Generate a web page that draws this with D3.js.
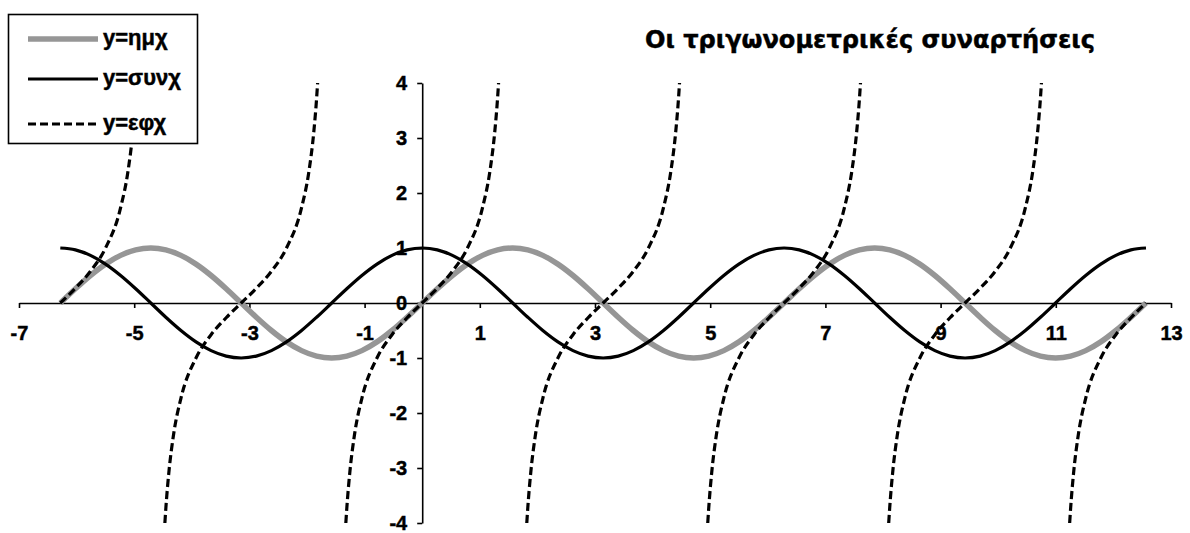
<!DOCTYPE html>
<html>
<head>
<meta charset="utf-8">
<script src="https://cdn.jsdelivr.net/npm/d3@7"></script>
<style>
  body { margin: 0; background: #fff; }
  text { font-family: "Liberation Sans", Arial, sans-serif; font-weight: bold; stroke: #000; stroke-width: 0.45px; }
</style>
</head>
<body>
<svg id="chart" width="1190" height="533"></svg>
<script>
var titleText = "Οι τριγωνομετρικές συναρτήσεις";
var seriesNames = ["y=ημχ", "y=συνχ", "y=εφχ"];
var xTicks = [-7, -5, -3, -1, 1, 3, 5, 7, 9, 11, 13];
var yTicks = [-4, -3, -2, -1, 0, 1, 2, 3, 4];

// x in radians, step of 15 degrees from -2pi to 4pi
var xValues = [
  -6.283, -6.021, -5.760, -5.498, -5.236, -4.974, -4.712, -4.451, -4.189, -3.927, -3.665, -3.403,
  -3.142, -2.880, -2.618, -2.356, -2.094, -1.833, -1.571, -1.309, -1.047, -0.785, -0.524, -0.262,
  0, 0.262, 0.524, 0.785, 1.047, 1.309, 1.571, 1.833, 2.094, 2.356, 2.618, 2.880,
  3.142, 3.403, 3.665, 3.927, 4.189, 4.451, 4.712, 4.974, 5.236, 5.498, 5.760, 6.021,
  6.283, 6.545, 6.807, 7.069, 7.330, 7.592, 7.854, 8.116, 8.378, 8.639, 8.901, 9.163,
  9.425, 9.687, 9.948, 10.210, 10.472, 10.734, 10.996, 11.257, 11.519, 11.781, 12.043, 12.305,
  12.566
];
var sinValues = [
  0, 0.259, 0.5, 0.707, 0.866, 0.966, 1, 0.966, 0.866, 0.707, 0.5, 0.259,
  0, -0.259, -0.5, -0.707, -0.866, -0.966, -1, -0.966, -0.866, -0.707, -0.5, -0.259,
  0, 0.259, 0.5, 0.707, 0.866, 0.966, 1, 0.966, 0.866, 0.707, 0.5, 0.259,
  0, -0.259, -0.5, -0.707, -0.866, -0.966, -1, -0.966, -0.866, -0.707, -0.5, -0.259,
  0, 0.259, 0.5, 0.707, 0.866, 0.966, 1, 0.966, 0.866, 0.707, 0.5, 0.259,
  0, -0.259, -0.5, -0.707, -0.866, -0.966, -1, -0.966, -0.866, -0.707, -0.5, -0.259,
  0
];
var cosValues = [
  1, 0.966, 0.866, 0.707, 0.5, 0.259, 0, -0.259, -0.5, -0.707, -0.866, -0.966,
  -1, -0.966, -0.866, -0.707, -0.5, -0.259, 0, 0.259, 0.5, 0.707, 0.866, 0.966,
  1, 0.966, 0.866, 0.707, 0.5, 0.259, 0, -0.259, -0.5, -0.707, -0.866, -0.966,
  -1, -0.966, -0.866, -0.707, -0.5, -0.259, 0, 0.259, 0.5, 0.707, 0.866, 0.966,
  1, 0.966, 0.866, 0.707, 0.5, 0.259, 0, -0.259, -0.5, -0.707, -0.866, -0.966,
  -1, -0.966, -0.866, -0.707, -0.5, -0.259, 0, 0.259, 0.5, 0.707, 0.866, 0.966,
  1
];

// tan is drawn branch by branch, each cut at y = -4 / 4
var tanX = [
  [-6.2832, -6.0214, -5.7596, -5.4978, -5.2360, -5.1051, -5.0266, -4.9742, -4.9574],
  [-4.4674, -4.4506, -4.3982, -4.3197, -4.1888, -3.9270, -3.6652, -3.4034, -3.1416,
   -2.8798, -2.6180, -2.3562, -2.0944, -1.9635, -1.8850, -1.8326, -1.8158],
  [-1.3258, -1.3090, -1.2566, -1.1781, -1.0472, -0.7854, -0.5236, -0.2618, 0,
   0.2618, 0.5236, 0.7854, 1.0472, 1.1781, 1.2566, 1.3090, 1.3258],
  [1.8158, 1.8326, 1.8850, 1.9635, 2.0944, 2.3562, 2.6180, 2.8798, 3.1416,
   3.4034, 3.6652, 3.9270, 4.1888, 4.3197, 4.3982, 4.4506, 4.4674],
  [4.9574, 4.9742, 5.0266, 5.1051, 5.2360, 5.4978, 5.7596, 6.0214, 6.2832,
   6.5450, 6.8068, 7.0686, 7.3304, 7.4613, 7.5398, 7.5922, 7.6090],
  [8.0990, 8.1158, 8.1682, 8.2467, 8.3776, 8.6394, 8.9012, 9.1630, 9.4248,
   9.6866, 9.9484, 10.2102, 10.4720, 10.6029, 10.6814, 10.7338, 10.7506],
  [11.2406, 11.2574, 11.3098, 11.3883, 11.5192, 11.7810, 12.0428, 12.3046, 12.5664]
];
var tanY = [
  [0, 0.268, 0.577, 1, 1.732, 2.414, 3.078, 3.732, 4],
  [-4, -3.732, -3.078, -2.414, -1.732, -1, -0.577, -0.268, 0, 0.268, 0.577, 1, 1.732, 2.414, 3.078, 3.732, 4],
  [-4, -3.732, -3.078, -2.414, -1.732, -1, -0.577, -0.268, 0, 0.268, 0.577, 1, 1.732, 2.414, 3.078, 3.732, 4],
  [-4, -3.732, -3.078, -2.414, -1.732, -1, -0.577, -0.268, 0, 0.268, 0.577, 1, 1.732, 2.414, 3.078, 3.732, 4],
  [-4, -3.732, -3.078, -2.414, -1.732, -1, -0.577, -0.268, 0, 0.268, 0.577, 1, 1.732, 2.414, 3.078, 3.732, 4],
  [-4, -3.732, -3.078, -2.414, -1.732, -1, -0.577, -0.268, 0, 0.268, 0.577, 1, 1.732, 2.414, 3.078, 3.732, 4],
  [-4, -3.732, -3.078, -2.414, -1.732, -1, -0.577, -0.268, 0]
];

var WIDTH = 1190, HEIGHT = 533;
var svg = d3.select('#chart');

var xScale = d3.scaleLinear().domain([-7, 13]).range([19, 1171]);
var yScale = d3.scaleLinear().domain([-4, 4]).range([523, 83]);

svg.append('rect').attr('width', WIDTH).attr('height', HEIGHT).attr('fill', '#fff');

// Axes cross at the origin
var xAxis = d3.axisBottom(xScale)
    .tickValues(xTicks)
    .tickSize(5)
    .tickSizeOuter(0)
    .tickPadding(18)
    .tickFormat(d3.format('d'));
var yAxis = d3.axisLeft(yScale)
    .tickValues(yTicks)
    .tickSize(5)
    .tickSizeOuter(0)
    .tickPadding(10)
    .tickFormat(d3.format('d'));

var gx = svg.append('g')
    .attr('transform', 'translate(0,' + yScale(0) + ')')
    .call(xAxis);
var gy = svg.append('g')
    .attr('transform', 'translate(' + xScale(0) + ',0)')
    .call(yAxis);
[gx, gy].forEach(function(g) {
    g.attr('font-size', null).attr('font-family', null);
    g.selectAll('path, line').attr('stroke', '#000').attr('stroke-width', 1.6);
    g.selectAll('text')
        .attr('fill', '#000')
        .style('font-size', '20px')
        .style('font-family', '"Liberation Sans", Arial, sans-serif')
        .style('font-weight', 'bold')
        .text(function(d) { return String(d).replace('\u2212', '-'); });
});

var lineFunc = d3.line()
    .x(function(d) { return xScale(d[0]); })
    .y(function(d) { return yScale(d[1]); })
    .curve(d3.curveMonotoneX);

// sin
svg.append('path')
    .attr('d', lineFunc(d3.zip(xValues, sinValues)))
    .attr('fill', 'none')
    .attr('stroke', '#969696')
    .attr('stroke-width', 5.5);

// cos
svg.append('path')
    .attr('d', lineFunc(d3.zip(xValues, cosValues)))
    .attr('fill', 'none')
    .attr('stroke', '#000')
    .attr('stroke-width', 3.2);

// tan
for (var i = 0; i < tanX.length; i++) {
    svg.append('path')
        .attr('d', lineFunc(d3.zip(tanX[i], tanY[i])))
        .attr('fill', 'none')
        .attr('stroke', '#000')
        .attr('stroke-width', 3.2)
        .attr('stroke-dasharray', '8,4');
}

// Title
svg.append('text')
    .attr('x', 645)
    .attr('y', 48)
    .attr('textLength', 450)
    .attr('lengthAdjust', 'spacingAndGlyphs')
    .style('font-family', '"DejaVu Sans", Verdana, sans-serif')
    .style('font-size', '24px')
    .text(titleText);

// Legend
var legend = svg.append('g');
legend.append('rect')
    .attr('x', 8.5).attr('y', 14.5)
    .attr('width', 189).attr('height', 129)
    .attr('fill', '#fff')
    .attr('stroke', '#000')
    .attr('stroke-width', 1.6);
var legendRows = [39, 79, 124];
var legendStyles = [
    {stroke: '#969696', width: 5.5, dash: null},
    {stroke: '#000', width: 3.2, dash: null},
    {stroke: '#000', width: 3.2, dash: '8,4'}
];
for (var j = 0; j < seriesNames.length; j++) {
    legend.append('line')
        .attr('x1', 28).attr('x2', 98)
        .attr('y1', legendRows[j]).attr('y2', legendRows[j])
        .attr('stroke', legendStyles[j].stroke)
        .attr('stroke-width', legendStyles[j].width)
        .attr('stroke-dasharray', legendStyles[j].dash);
    legend.append('text')
        .attr('x', 103)
        .attr('y', legendRows[j] + 6)
        .style('font-size', '22px')
        .text(seriesNames[j]);
}
</script>
</body>
</html>
